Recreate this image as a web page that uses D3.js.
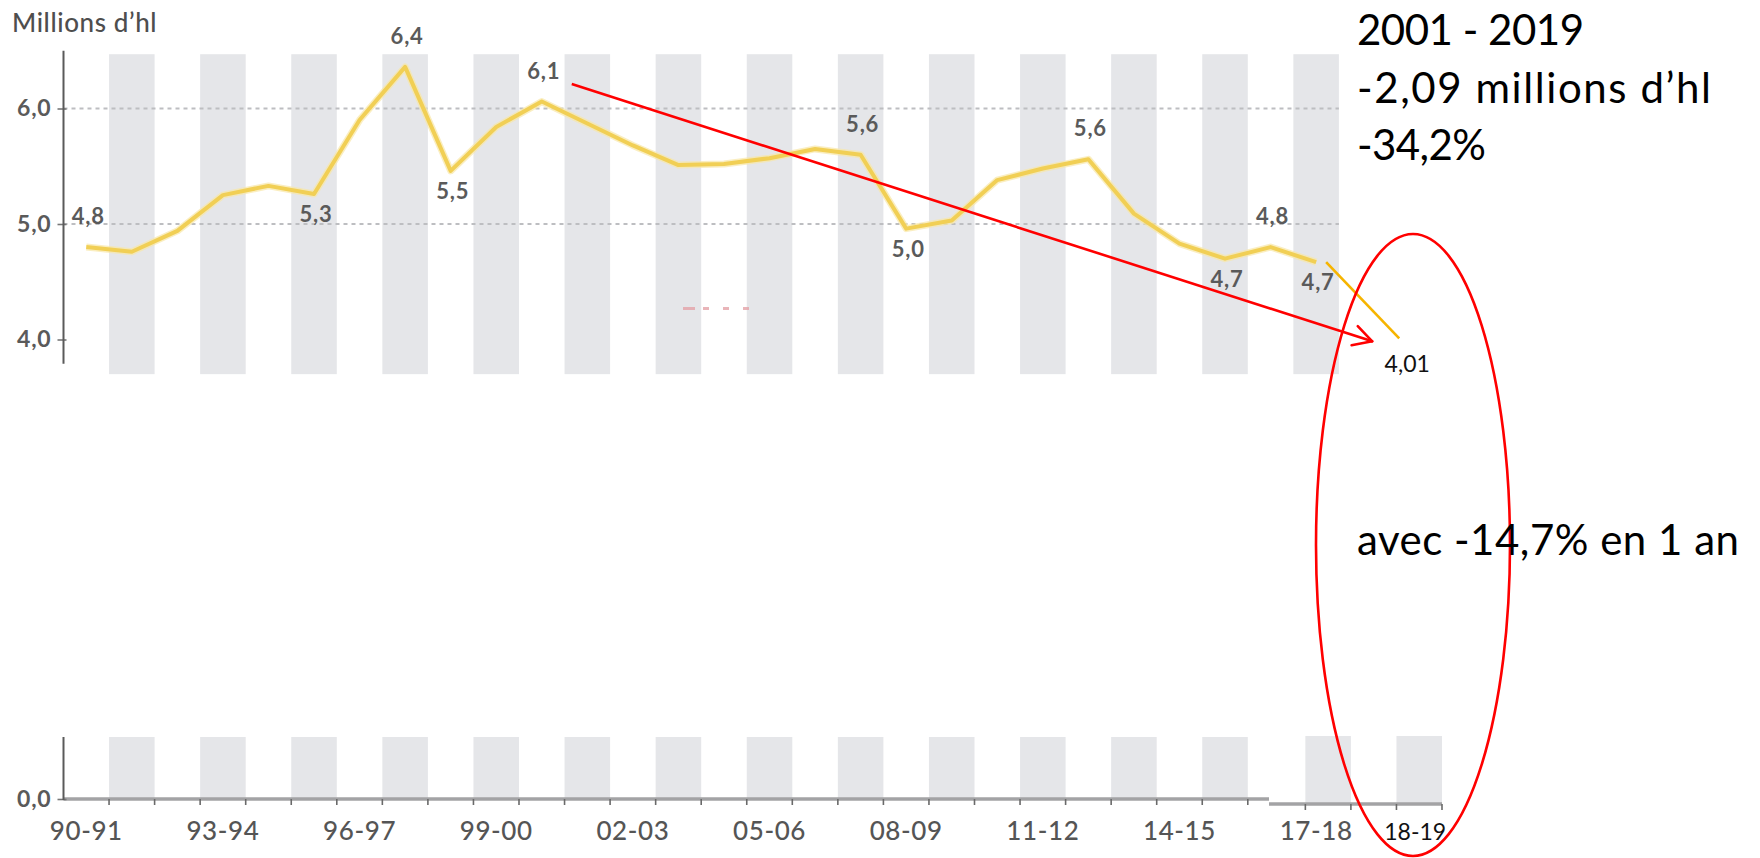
<!DOCTYPE html>
<html>
<head>
<meta charset="utf-8">
<script src="https://cdn.jsdelivr.net/npm/d3@7"></script>
<style>
  html, body { margin: 0; padding: 0; background: #ffffff; }
  svg { display: block; }
</style>
</head>
<body>
<svg id="chart" width="1760" height="858"></svg>
<script>
// Seasons (campagnes) and volumes in millions of hectolitres
const seasons = ["90-91","91-92","92-93","93-94","94-95","95-96","96-97","97-98","98-99","99-00",
                 "00-01","01-02","02-03","03-04","04-05","05-06","06-07","07-08","08-09","09-10",
                 "10-11","11-12","12-13","13-14","14-15","15-16","16-17","17-18"];
const volumes = [4.80, 4.76, 4.94, 5.25, 5.33, 5.26, 5.90, 6.36, 5.46, 5.84,
                 6.06, 5.87, 5.68, 5.51, 5.52, 5.57, 5.65, 5.60, 4.96, 5.03,
                 5.38, 5.48, 5.56, 5.09, 4.83, 4.70, 4.80, 4.67];

// Latest season, added after the series
const estimateSeason = "18-19";
const estimateVolume = 4.01;

// Seasons carrying a value label
const labelledAbove = ["90-91","97-98","00-01","07-08","12-13","16-17"];
const labelledBelow = ["95-96","98-99","08-09","15-16","17-18"];

// Axis ticks
const yTicksTop = [4, 5, 6];
const yTicksBottom = [0];
const xTickSeasons = ["90-91","93-94","96-97","99-00","02-03","05-06","08-09","11-12","14-15","17-18"];

// Texts
const unitLabel = "Millions d’hl";
const trendStart = "00-01";
const summaryLines = ["2001 - 2019", "-2,09 millions d’hl", "-34,2%"];
const yearChange = "avec -14,7% en 1 an";

// ---------------------------------------------------------------------------
const svg = d3.select("#chart");
const fr = d3.formatLocale({ decimal: ",", thousands: " ", grouping: [3], currency: ["", " €"] });
const fmt1 = fr.format(".1f");
const fmt2 = fr.format(".2f");

const chartFont = "Lato, 'Open Sans', sans-serif";
const noteFont = "Lato, 'Noto Sans', sans-serif";

// one slot per season, a spare slot, then the latest season
const slotCount = seasons.length + 2;
const slotOf = s => s === estimateSeason ? seasons.length + 1 : seasons.indexOf(s);
const x = d3.scaleBand()
  .domain(d3.range(slotCount))
  .range([63.5, 63.5 + slotCount * 45.55])
  .padding(0);
const cx = s => x(slotOf(s)) + x.bandwidth() / 2;

// upper panel (broken axis, 3.8 to 6.5)
const yTop = d3.scaleLinear().domain([4, 6]).range([339.5, 108.5]);
// lower panel, only the zero line
const yBot = d3.scaleLinear().domain([0, 1]).range([799, 737]);

const series = seasons.map((s, i) => ({ season: s, value: volumes[i] }));

// ---------------- upper panel ----------------
const gTop = svg.append("g");

// alternating grey stripes
gTop.selectAll("rect.band")
  .data(seasons.filter((s, i) => i % 2 === 1))
  .join("rect")
  .attr("class", "band")
  .attr("x", s => x(slotOf(s)))
  .attr("width", x.bandwidth())
  .attr("y", yTop(6.47))
  .attr("height", yTop(3.7) - yTop(6.47))
  .attr("fill", "#e5e6e9");

// dotted grid lines
gTop.selectAll("line.grid")
  .data([5, 6])
  .join("line")
  .attr("class", "grid")
  .attr("x1", x(0)).attr("x2", x(seasons.length - 1) + x.bandwidth())
  .attr("y1", d => yTop(d)).attr("y2", d => yTop(d))
  .attr("stroke", "#bdbec1").attr("stroke-width", 2.2)
  .attr("stroke-dasharray", "4 4");

// faint leftover marks
gTop.selectAll("rect.trace")
  .data([0, 1, 2, 3])
  .join("rect")
  .attr("x", d => 683 + d * 20).attr("y", 307)
  .attr("width", d => d === 0 ? 12 : 6).attr("height", 3)
  .attr("fill", "#e4a3a8").attr("opacity", 0.8);

// y axis
const yAxisTop = d3.axisLeft(yTop).tickValues(yTicksTop).tickFormat(fmt1)
  .tickSizeInner(6).tickSizeOuter(0).tickPadding(6);
const gy = gTop.append("g").attr("transform", `translate(${x(0)},0)`).call(yAxisTop);
gy.select(".domain").remove();
gy.selectAll(".tick line").attr("x1", 3).attr("stroke", "#777").attr("stroke-width", 1.6);
gy.selectAll(".tick text")
  .attr("font-family", chartFont).attr("font-size", 23).attr("font-weight", 700)
  .attr("letter-spacing", 0.8).attr("fill", "#5a5a5a");
gTop.append("line")
  .attr("x1", x(0)).attr("x2", x(0))
  .attr("y1", yTop(6.5)).attr("y2", yTop(3.79))
  .attr("stroke", "#5a5a5a").attr("stroke-width", 2);

gTop.append("text")
  .attr("x", 12).attr("y", 32)
  .attr("font-family", chartFont).attr("font-size", 26).attr("font-weight", 500)
  .attr("letter-spacing", 0.6)
  .attr("fill", "#4e4e4e")
  .text(unitLabel);

// volume line
const line = d3.line().x(d => cx(d.season)).y(d => yTop(d.value)).curve(d3.curveLinear);
gTop.append("path").datum(series)
  .attr("d", line).attr("fill", "none")
  .attr("stroke", "#f8e7a6").attr("stroke-width", 7).attr("stroke-linejoin", "round")
  .attr("opacity", 0.7);
gTop.append("path").datum(series)
  .attr("d", line).attr("fill", "none")
  .attr("stroke", "#f1cf55").attr("stroke-width", 4).attr("stroke-linejoin", "round");

// extension to the latest season
const last = series[series.length - 1];
gTop.append("line")
  .attr("x1", cx(last.season) + 10).attr("y1", yTop(last.value))
  .attr("x2", cx(estimateSeason) - 8).attr("y2", yTop(estimateVolume))
  .attr("stroke", "#f6b400").attr("stroke-width", 2.6);

// value labels
const labelData = series.filter(d => labelledAbove.includes(d.season) || labelledBelow.includes(d.season));
gTop.selectAll("text.val")
  .data(labelData)
  .join("text")
  .attr("class", "val")
  .attr("x", d => cx(d.season) + 2)
  .attr("y", d => labelledAbove.includes(d.season) ? yTop(d.value) - 23 : yTop(d.value) + 28)
  .attr("text-anchor", "middle")
  .attr("font-family", chartFont).attr("font-size", 22).attr("font-weight", 700)
  .attr("letter-spacing", 0.8).attr("fill", "#5a5a5a")
  .text(d => fmt1(d.value));

gTop.append("text")
  .attr("x", cx(estimateSeason)).attr("y", yTop(estimateVolume) + 34)
  .attr("text-anchor", "middle")
  .attr("font-family", noteFont).attr("font-size", 23).attr("fill", "#111")
  .text(fmt2(estimateVolume));

// ---------------- lower panel ----------------
const gBot = svg.append("g");
const splice = 1269;      // where the added piece of axis starts
const shift = 12;         // offset of the added piece

gBot.selectAll("rect.band")
  .data(seasons.filter((s, i) => i % 2 === 1 && x(i) + x.bandwidth() < splice))
  .join("rect")
  .attr("class", "band")
  .attr("x", s => x(slotOf(s))).attr("width", x.bandwidth())
  .attr("y", yBot(1)).attr("height", yBot(0) - yBot(1))
  .attr("fill", "#e5e6e9");
gBot.selectAll("rect.band2")
  .data([seasons[seasons.length - 1], estimateSeason])
  .join("rect")
  .attr("class", "band2")
  .attr("x", s => x(slotOf(s)) + shift).attr("width", x.bandwidth())
  .attr("y", yBot(1) - 1).attr("height", yBot(0) - yBot(1) + 6)
  .attr("fill", "#e5e6e9");

// zero line
gBot.append("line")
  .attr("x1", x(0)).attr("x2", splice)
  .attr("y1", yBot(0)).attr("y2", yBot(0))
  .attr("stroke", "#a3a3a5").attr("stroke-width", 3.5);
gBot.append("line")
  .attr("x1", splice).attr("x2", x(slotCount - 1) + x.bandwidth() + shift)
  .attr("y1", yBot(0) + 5).attr("y2", yBot(0) + 5)
  .attr("stroke", "#a3a3a5").attr("stroke-width", 3.5);

// season boundary ticks
const bounds = d3.range(1, slotCount + 1).map(j => x(0) + j * x.bandwidth());
gBot.selectAll("line.tk")
  .data(bounds)
  .join("line")
  .attr("class", "tk")
  .attr("x1", b => b < splice ? b : b + shift).attr("x2", b => b < splice ? b : b + shift)
  .attr("y1", b => b < splice ? yBot(0) : yBot(0) + 5)
  .attr("y2", b => b < splice ? yBot(0) + 6 : yBot(0) + 11)
  .attr("stroke", "#6a6a6a").attr("stroke-width", 1.6);

// y axis
const yAxisBot = d3.axisLeft(yBot).tickValues(yTicksBottom).tickFormat(fmt1)
  .tickSizeInner(6).tickSizeOuter(0).tickPadding(6);
const gyb = gBot.append("g").attr("transform", `translate(${x(0)},0)`).call(yAxisBot);
gyb.select(".domain").remove();
gyb.selectAll(".tick line").attr("x1", 3).attr("stroke", "#777").attr("stroke-width", 1.6);
gyb.selectAll(".tick text")
  .attr("font-family", chartFont).attr("font-size", 23).attr("font-weight", 700)
  .attr("letter-spacing", 0.8).attr("fill", "#5a5a5a");
gBot.append("line")
  .attr("x1", x(0)).attr("x2", x(0))
  .attr("y1", yBot(1)).attr("y2", yBot(0) + 1)
  .attr("stroke", "#5a5a5a").attr("stroke-width", 2);

// x axis labels
const xAxis = d3.axisBottom(x)
  .tickValues(xTickSeasons.map(slotOf))
  .tickFormat(i => seasons[i])
  .tickSize(0).tickPadding(0);
const gx = gBot.append("g").attr("transform", `translate(0,${yBot(0)})`).call(xAxis);
gx.select(".domain").remove();
gx.selectAll(".tick text")
  .attr("y", 41).attr("dy", 0)
  .attr("font-family", chartFont).attr("font-size", 26).attr("font-weight", 500)
  .attr("letter-spacing", 0.6)
  .attr("fill", "#555");

gBot.append("text")
  .attr("x", cx(estimateSeason) + 8).attr("y", yBot(0) + 41)
  .attr("text-anchor", "middle")
  .attr("font-family", noteFont).attr("font-size", 23).attr("fill", "#111")
  .text(estimateSeason);

// ---------------- annotations ----------------
const ann = svg.append("g");

// trend arrow from the 2000-01 peak to the latest season
const ax1 = cx(trendStart) + 30, ay1 = yTop(6.1) - 13;
const ax2 = cx(estimateSeason) - 35, ay2 = yTop(estimateVolume) + 3;
ann.append("line")
  .attr("x1", ax1).attr("y1", ay1).attr("x2", ax2).attr("y2", ay2)
  .attr("stroke", "#ff0000").attr("stroke-width", 2.6);
const ang = Math.atan2(ay2 - ay1, ax2 - ax1);
[-0.5, 0.5].forEach(o => {
  ann.append("line")
    .attr("x1", ax2).attr("y1", ay2)
    .attr("x2", ax2 - 21 * Math.cos(ang + o)).attr("y2", ay2 - 21 * Math.sin(ang + o))
    .attr("stroke", "#ff0000").attr("stroke-width", 2.6).attr("stroke-linecap", "round");
});

// circled latest season
ann.append("ellipse")
  .attr("cx", 1413).attr("cy", 545).attr("rx", 97).attr("ry", 311)
  .attr("fill", "none").attr("stroke", "#ff0000").attr("stroke-width", 2.6);

// summary block; widths follow the slide text
const summaryWidths = [227, 354, 129];
ann.selectAll("text.sum")
  .data(summaryLines)
  .join("text")
  .attr("class", "sum")
  .attr("x", 1357).attr("y", (d, i) => 45 + i * 57.5)
  .attr("font-family", noteFont).attr("font-size", 42).attr("fill", "#000")
  .attr("textLength", (d, i) => summaryWidths[i])
  .attr("lengthAdjust", "spacing")
  .text(d => d);

ann.append("text")
  .attr("x", 1357).attr("y", 555)
  .attr("font-family", noteFont).attr("font-size", 42).attr("fill", "#000")
  .attr("textLength", 382).attr("lengthAdjust", "spacing")
  .text(yearChange);
</script>
</body>
</html>
